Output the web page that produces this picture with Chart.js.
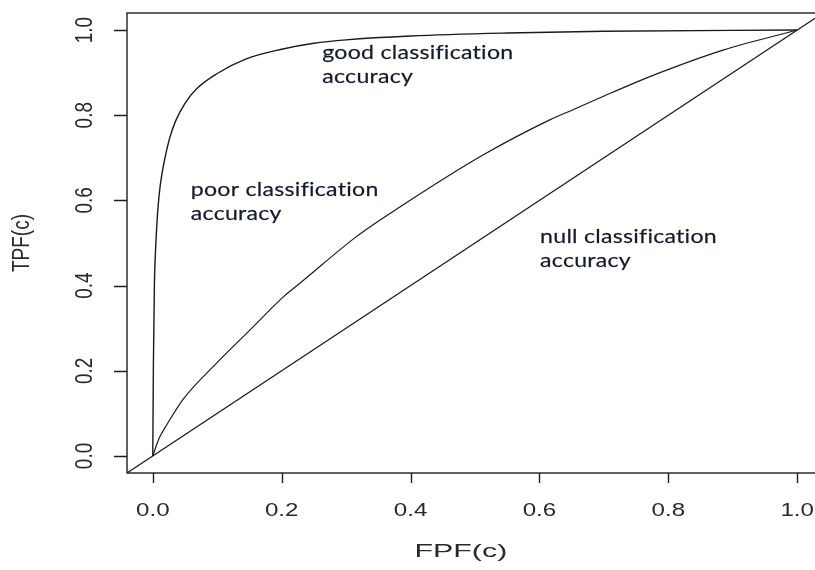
<!DOCTYPE html>
<html>
<head>
<meta charset="utf-8">
<script src="https://cdn.jsdelivr.net/npm/chart.js@4/dist/chart.umd.min.js"></script>
<style>
  html, body { margin: 0; padding: 0; overflow: hidden; background: #fff; }
  #roc { display: block; }
</style>
</head>
<body>
<canvas id="roc" width="840" height="570"></canvas>
<script>
// ROC curves: true positive fraction vs false positive fraction
const goodFPF = [0, 0.001, 0.0025, 0.0045, 0.007, 0.010, 0.014, 0.019, 0.026, 0.035, 0.05, 0.068, 0.1, 0.146, 0.2, 0.25, 0.3, 0.4, 0.55, 0.7, 1.0];
const goodTPF = [0, 0.22, 0.40, 0.49, 0.56, 0.615, 0.66, 0.70, 0.745, 0.785, 0.828, 0.862, 0.898, 0.933, 0.955, 0.969, 0.977, 0.986, 0.993, 0.997, 1.0];

const poorFPF = [0, 0.010, 0.022, 0.047, 0.099, 0.151, 0.203, 0.232, 0.316, 0.384, 0.513, 0.616, 0.652, 0.694, 0.782, 0.885, 1.0];
const poorTPF = [0, 0.042, 0.074, 0.133, 0.218, 0.296, 0.374, 0.410, 0.515, 0.585, 0.707, 0.789, 0.813, 0.841, 0.897, 0.953, 1.0];

// chance diagonal, spanning the whole plotting region
const nullFPF = [-0.04, 1.04];
const nullTPF = [-0.04, 1.04];

const tickValues = [0, 0.2, 0.4, 0.6, 0.8, 1.0];
const tickLabels = ['0.0', '0.2', '0.4', '0.6', '0.8', '1.0'];

const xTitle = 'FPF(c)';
const yTitle = 'TPF(c)';

const curveNotes = [
  { lines: ['good classification', 'accuracy'], fpf: 0.263, tpf: 0.946 },
  { lines: ['poor classification', 'accuracy'], fpf: 0.059, tpf: 0.624 },
  { lines: ['null classification', 'accuracy'], fpf: 0.601, tpf: 0.514 }
];

const toPoints = (xs, ys) => xs.map((x, i) => ({ x: x, y: ys[i] }));

const STRETCH = 1.27;           // horizontal widening of axis text
const TITLE_STRETCH = 1.6;
const NOTE_STRETCH = 1.25;
const AXIS_FONT = '19px "Liberation Sans", Arial, sans-serif';
const NOTE_FONT = '18.5px Lato, "Open Sans", sans-serif';

function stretchedText(ctx, text, x, y, sx, rotate, outline) {
  ctx.save();
  ctx.translate(x, y);
  ctx.scale(sx, 1);
  if (rotate) ctx.rotate(-Math.PI / 2);
  ctx.fillText(text, 0, 0);
  if (outline) ctx.strokeText(text, 0, 0);
  ctx.restore();
}

const framePlugin = {
  id: 'rFrame',
  afterDraw(chart) {
    const ctx = chart.ctx;
    const ca = chart.chartArea;
    const xs = chart.scales.x, ys = chart.scales.y;
    ctx.save();
    // box
    ctx.strokeStyle = '#1e1e1e';
    ctx.lineWidth = 1.4;
    ctx.strokeRect(ca.left, ca.top, ca.right - ca.left, ca.bottom - ca.top);

    // tick marks
    ctx.beginPath();
    tickValues.forEach(v => {
      const px = Math.round(xs.getPixelForValue(v)) + 0.5;
      ctx.moveTo(px, ca.bottom);
      ctx.lineTo(px, ca.bottom + 10);
      const py = Math.round(ys.getPixelForValue(v)) + 0.5;
      ctx.moveTo(ca.left, py);
      ctx.lineTo(ca.left - 13, py);
    });
    ctx.stroke();

    // tick labels
    ctx.fillStyle = '#2a2a2a';
    ctx.font = AXIS_FONT;
    ctx.textAlign = 'center';
    ctx.textBaseline = 'middle';
    tickValues.forEach((v, i) => {
      stretchedText(ctx, tickLabels[i], xs.getPixelForValue(v), ca.bottom + 38, STRETCH, false);
      stretchedText(ctx, tickLabels[i], ca.left - 42, ys.getPixelForValue(v), STRETCH, true);
    });

    // axis titles
    stretchedText(ctx, xTitle, xs.getPixelForValue(0.478), ca.bottom + 79, TITLE_STRETCH, false);
    stretchedText(ctx, yTitle, ca.left - 105, (ys.getPixelForValue(0) + ys.getPixelForValue(1)) / 2, STRETCH, true);

    // curve annotations
    ctx.fillStyle = '#141b2c';
    ctx.strokeStyle = 'rgba(20,27,44,0.55)';
    ctx.lineWidth = 0.35;
    ctx.font = NOTE_FONT;
    ctx.letterSpacing = '0.2px';
    ctx.textAlign = 'left';
    ctx.textBaseline = 'middle';
    curveNotes.forEach(n => {
      const x0 = xs.getPixelForValue(n.fpf);
      const y0 = ys.getPixelForValue(n.tpf);
      n.lines.forEach((t, k) => {
        stretchedText(ctx, t, x0, y0 + k * 23.5, NOTE_STRETCH, false, true);
      });
    });
    ctx.restore();
  }
};

const lineStyle = {
  showLine: true,
  pointRadius: 0,
  pointHoverRadius: 0,
  borderColor: '#1a1a1a',
  borderWidth: 1.2,
  tension: 0,
  fill: false
};

new Chart(document.getElementById('roc'), {
  type: 'scatter',
  data: {
    datasets: [
      Object.assign({ label: 'good', data: toPoints(goodFPF, goodTPF) }, lineStyle,
        { borderWidth: 1.4, cubicInterpolationMode: 'monotone' }),
      Object.assign({ label: 'poor', data: toPoints(poorFPF, poorTPF) }, lineStyle,
        { cubicInterpolationMode: 'monotone' }),
      Object.assign({ label: 'null', data: toPoints(nullFPF, nullTPF) }, lineStyle)
    ]
  },
  options: {
    responsive: false,
    animation: false,
    events: [],
    layout: { padding: { left: 127, top: 13, right: 17, bottom: 97 } },
    plugins: { legend: { display: false }, tooltip: { enabled: false } },
    scales: {
      x: {
        type: 'linear', min: -0.04, max: 1.04,
        grid: { display: false, drawTicks: false },
        border: { display: false },
        ticks: { display: false }
      },
      y: {
        type: 'linear', min: -0.04, max: 1.04,
        grid: { display: false, drawTicks: false },
        border: { display: false },
        ticks: { display: false }
      }
    }
  },
  plugins: [framePlugin]
});
</script>
</body>
</html>
